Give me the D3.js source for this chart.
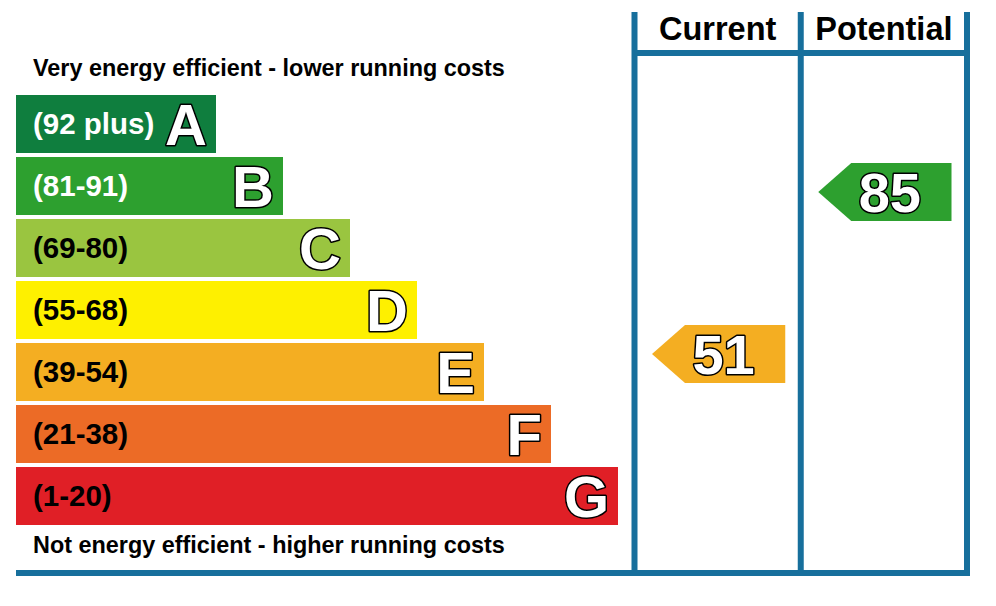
<!DOCTYPE html>
<html>
<head>
<meta charset="utf-8">
<script src="https://cdn.jsdelivr.net/npm/d3@7/dist/d3.min.js"></script>
<style>
html,body{margin:0;padding:0;background:#fff;}
svg{display:block;font-family:"Liberation Sans",Arial,Helvetica,sans-serif;font-weight:bold;}
</style>
</head>
<body>
<svg id="chart" width="996" height="606"></svg>
<script>
// ---- data ----
const bands = ["A", "B", "C", "D", "E", "F", "G"];
const bandRanges = ["(92 plus)", "(81-91)", "(69-80)", "(55-68)", "(39-54)", "(21-38)", "(1-20)"];
const bandMin = [92, 81, 69, 55, 39, 21, 1];
const bandColors = ["#0f7e3e", "#2da02f", "#9ac540", "#fef000", "#f4ae22", "#ec6b26", "#e01f26"];
const bandTextColors = ["#fff", "#fff", "#000", "#000", "#000", "#000", "#000"];
const columns = ["Current", "Potential"];
const ratings = [51, 85];
const topNote = "Very energy efficient - lower running costs";
const bottomNote = "Not energy efficient - higher running costs";

function bandOf(v){ for (let i=0;i<bandMin.length;i++){ if (v>=bandMin[i]) return i; } return bandMin.length-1; }

// ---- layout ----
const svg = d3.select("#chart");
const frameColor = "#176f9c";
const lineW = 6;

const y = d3.scaleBand().domain(bands).range([93, 527]).paddingInner(4/62).paddingOuter(2/62);
const xEnd = d3.scaleLinear().domain([0, bands.length - 1]).range([216, 618]);
const xStart = 16;
const col = d3.scaleBand().domain(columns).range([634.5, 967]);
const yRating = d3.scaleLinear().domain([0, 100]).range([597, 120.5]);

// bars
const g = svg.append("g");
bands.forEach((b, i) => {
  g.append("rect")
    .attr("x", xStart).attr("y", y(b))
    .attr("width", xEnd(i) - xStart).attr("height", y.bandwidth())
    .attr("fill", bandColors[i]);
  const cy = y(b) + y.bandwidth() / 2;
  g.append("text")
    .attr("x", 33).attr("y", cy + 10)
    .attr("font-size", 29.5)
    .attr("fill", bandTextColors[i])
    .text(bandRanges[i]);
  g.append("text")
    .attr("x", xEnd(i) - 9).attr("y", cy + 21)
    .attr("text-anchor", "end")
    .attr("font-size", 58)
    .attr("fill", "#fff").attr("stroke", "#000").attr("stroke-width", 3)
    .attr("paint-order", "stroke").attr("stroke-linejoin", "round")
    .text(b);
});

// notes
svg.append("text").attr("x", 33).attr("y", 76).attr("font-size", 23.4).attr("fill", "#000").text(topNote);
svg.append("text").attr("x", 33).attr("y", 553).attr("font-size", 23.4).attr("fill", "#000").text(bottomNote);

// headers
columns.forEach(c => {
  svg.append("text")
    .attr("x", col(c) + col.bandwidth() / 2).attr("y", 40)
    .attr("text-anchor", "middle").attr("font-size", 32.5).attr("fill", "#000")
    .text(c);
});

// rating arrows
columns.forEach((c, i) => {
  const v = ratings[i];
  const cy = yRating(v);
  const h = y.bandwidth();
  const tip = col(c) + 17.5;
  const right = col(c) + col.bandwidth() - 15.5;
  const body = tip + 33;
  const pts = [[tip, cy], [body, cy - h/2], [right, cy - h/2], [right, cy + h/2], [body, cy + h/2]];
  svg.append("path")
    .attr("d", d3.line()(pts) + "Z")
    .attr("fill", bandColors[bandOf(v)]);
  svg.append("text")
    .attr("x", (tip + right) / 2 + 5).attr("y", cy + 20)
    .attr("text-anchor", "middle").attr("font-size", 56)
    .attr("fill", "#fff").attr("stroke", "#000").attr("stroke-width", 3)
    .attr("paint-order", "stroke").attr("stroke-linejoin", "round")
    .text(v);
});

// frame lines
const fr = svg.append("g").attr("stroke", frameColor).attr("stroke-width", lineW).attr("fill", "none");
const colEdges = [col(columns[0]), col(columns[1]), col(columns[1]) + col.bandwidth()];
colEdges.forEach(xv => {
  fr.append("line").attr("x1", xv).attr("x2", xv).attr("y1", 12).attr("y2", 576);
});
fr.append("line").attr("x1", colEdges[0]).attr("x2", colEdges[2] + lineW/2).attr("y1", 53).attr("y2", 53);
fr.append("line").attr("x1", xStart).attr("x2", colEdges[2] + lineW/2).attr("y1", 573).attr("y2", 573);
</script>
</body>
</html>
